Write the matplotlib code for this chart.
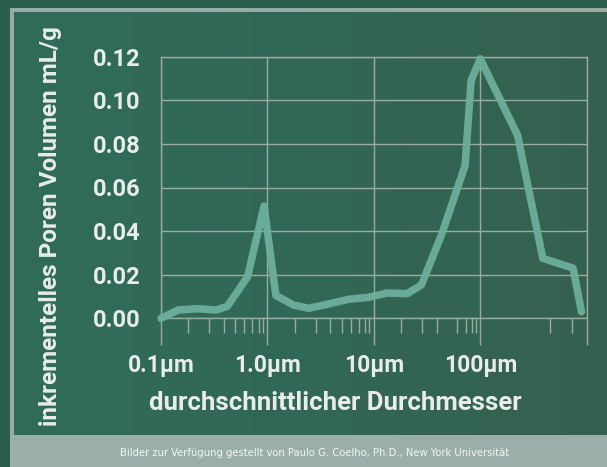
import matplotlib
matplotlib.use("Agg")
import matplotlib.pyplot as plt
import numpy as np
from matplotlib.colors import LinearSegmentedColormap
from matplotlib.patches import Rectangle
from matplotlib.ticker import FixedLocator, NullFormatter
from matplotlib import font_manager

# ---- data ----
diameters = [0.1, 0.145, 0.223, 0.33, 0.42, 0.65, 0.93, 1.2, 1.77, 2.45, 3.76,
             5.77, 8.9, 13.3, 20.5, 28, 43, 72, 82, 100, 224, 387, 745, 893]
volumes = [0.0, 0.0038, 0.0044, 0.0038, 0.0055, 0.019, 0.0515, 0.0105, 0.006,
           0.0046, 0.0066, 0.0087, 0.0096, 0.0116, 0.0113, 0.0153, 0.038, 0.070,
           0.109, 0.119, 0.084, 0.0275, 0.023, 0.003]
major_ticks = [0.1, 1, 10, 100, 1000]
major_labels = ["0.1µm", "1.0µm", "10µm", "100µm", ""]
minor_ticks = [0.18, 0.285, 0.39, 0.5, 0.605, 0.72, 0.83, 0.915,
               1.8, 2.85, 3.9, 5.0, 6.05, 7.2, 8.3, 9.1,
               18, 28.5, 39, 61, 73, 84, 92,
               450, 730]
y_ticks = [0.0, 0.02, 0.04, 0.06, 0.08, 0.10, 0.12]
y_labels = ["0.00", "0.02", "0.04", "0.06", "0.08", "0.10", "0.12"]
x_title = "durchschnittlicher Durchmesser"
y_title = "inkrementelles Poren Volumen mL/g"
caption = "Bilder zur Verfügung gestellt von Paulo G. Coelho, Ph.D., New York Universität"

W, H = 607, 467
fig = plt.figure(figsize=(W / 100, H / 100), dpi=100)
fig.patch.set_facecolor("#2b5e4d")

# background gradient
bg = fig.add_axes([0, 0, 1, 1], zorder=-10)
bg.set_xlim(0, W)
bg.set_ylim(H, 0)
bg.axis("off")
cmap = LinearSegmentedColormap.from_list("bg", ["#306c5a", "#326756", "#35604f"])
grad = np.tile(np.linspace(0, 1, 256), (2, 1))
bg.imshow(grad, cmap=cmap, extent=[12, W, H, 10], aspect="auto", zorder=0)
# frame border
bg.add_patch(Rectangle((10, 8), W, 4, color="#95aca5", zorder=2, lw=0))
bg.add_patch(Rectangle((10, 8), 4, H, color="#95aca5", zorder=2, lw=0))
# caption band
bg.add_patch(Rectangle((10, 435), W, 40, color="#9aafa9", zorder=3, lw=0))

grid_c = "#9aaba3"
text_c = "#e8ecea"
font = "Roboto"

ax = fig.add_axes([161 / W, 1 - 318.3 / H, (586.7 - 161) / W, (318.3 - 56.7) / H])
ax.set_facecolor("none")
ax.set_xscale("log")
ax.set_xlim(0.1, 1000)
ax.set_ylim(0, 0.12)

ax.plot(diameters, volumes, color="#6dae9c", lw=5.4, solid_joinstyle="round",
        solid_capstyle="round", alpha=0.95, zorder=3, clip_on=False)

ax.xaxis.set_major_locator(FixedLocator(major_ticks))
ax.set_xticklabels(major_labels)
ax.xaxis.set_minor_locator(FixedLocator(minor_ticks))
ax.xaxis.set_minor_formatter(NullFormatter())
ax.set_yticks(y_ticks)
ax.set_yticklabels(y_labels)

ax.tick_params(axis="x", which="major", length=19.5, width=1, color=grid_c,
               pad=6, labelsize=16.5, labelcolor=text_c)
ax.tick_params(axis="x", which="minor", length=10.8, width=1, color=grid_c)
ax.tick_params(axis="y", length=0, pad=15, labelsize=17, labelcolor=text_c)
for lab in ax.get_xticklabels() + ax.get_yticklabels():
    lab.set_fontfamily(font)
    lab.set_fontweight("bold")

ax.grid(True, which="major", color=grid_c, lw=1)
for s in ax.spines.values():
    s.set_color(grid_c)
    s.set_linewidth(1)

fig.text(335 / W, 1 - 403.3 / H, x_title, ha="center", va="center",
         fontsize=18.5, fontweight="bold", color=text_c, family=font)
fig.text(51 / W, 1 - 226.5 / H, y_title, ha="center", va="center", rotation=90,
         fontsize=17.5, fontweight="bold", color=text_c, family=font)
fig.text(314.5 / W, 1 - 452.7 / H, caption, ha="center", va="center",
         fontsize=8, color="#f4f6f5", family="DejaVu Sans", fontstretch="condensed")

fig.savefig("out.png", dpi=100, facecolor=fig.get_facecolor())
